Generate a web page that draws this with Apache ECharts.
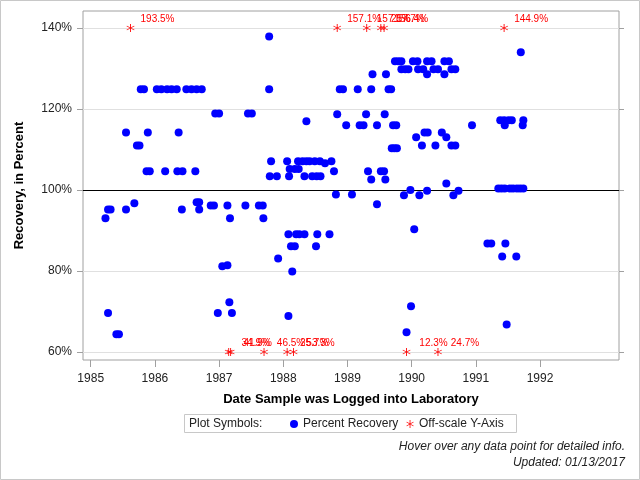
<!DOCTYPE html>
<html>
<head>
<meta charset="utf-8">
<script src="https://cdn.jsdelivr.net/npm/echarts@6/dist/echarts.min.js"></script>
<style>html,body{margin:0;padding:0;background:#fff}#c{width:640px;height:480px}</style>
</head>
<body>
<div id="c"></div>
<script>
// Percent Recovery points: decimal year, percent
const recYear = [
1985.23,1985.27,1985.31,1985.27,1985.40,1985.44,1985.55,1985.55,1985.68,1985.72,
1985.76,1985.78,1985.83,1985.87,1985.89,1985.92,1986.03,1986.10,1986.16,1986.19,
1986.26,1986.34,1986.35,1986.37,1986.42,1986.43,1986.49,1986.57,1986.63,1986.65,
1986.65,1986.69,1986.69,1986.73,1986.87,1986.92,1986.94,1986.98,1987.00,1987.05,
1987.13,1987.13,1987.16,1987.17,1987.20,1987.41,1987.45,1987.51,1987.62,1987.68,
1987.69,1987.78,1987.78,1987.79,1987.81,1987.90,1987.92,1988.06,1988.08,1988.08,
1988.09,1988.10,1988.12,1988.14,1988.18,1988.18,1988.20,1988.23,1988.24,1988.25,
1988.30,1988.33,1988.33,1988.36,1988.36,1988.41,1988.45,1988.49,1988.51,1988.52,
1988.53,1988.57,1988.58,1988.65,1988.72,1988.75,1988.79,1988.82,1988.84,1988.88,
1988.93,1988.98,1989.07,1989.16,1989.19,1989.25,1989.29,1989.32,1989.37,1989.37,
1989.39,1989.46,1989.46,1989.52,1989.57,1989.58,1989.59,1989.60,1989.64,1989.68,
1989.69,1989.71,1989.73,1989.74,1989.76,1989.77,1989.79,1989.84,1989.84,1989.88,
1989.90,1989.92,1989.95,1989.98,1989.99,1990.02,1990.04,1990.07,1990.09,1990.10,
1990.12,1990.16,1990.18,1990.20,1990.24,1990.24,1990.24,1990.25,1990.31,1990.34,
1990.37,1990.41,1990.47,1990.51,1990.51,1990.54,1990.54,1990.58,1990.62,1990.62,
1990.65,1990.68,1990.68,1990.73,1990.94,1991.18,1991.24,1991.35,1991.38,1991.40,
1991.41,1991.44,1991.45,1991.45,1991.46,1991.48,1991.51,1991.53,1991.56,1991.58,
1991.63,1991.64,1991.69,1991.70,1991.73,1991.74,1991.74
];
const recPct = [
93.0,95.2,95.2,69.6,64.4,64.4,114.2,95.2,96.7,111.0,
111.0,124.9,124.9,104.6,114.2,104.6,124.9,124.9,104.6,124.9,
124.9,124.9,104.6,114.2,95.2,104.6,124.9,124.9,104.6,124.9,
97.0,97.0,95.2,124.9,96.2,96.2,118.9,69.6,118.9,81.2,
81.4,96.2,72.3,93.0,69.6,96.2,118.9,118.9,96.2,96.2,
93.0,137.9,124.9,103.4,107.1,103.4,83.1,107.1,89.1,68.9,
103.4,105.2,86.1,79.9,105.2,86.1,89.1,107.1,105.2,89.1,
107.1,103.4,89.1,107.1,117.0,107.1,103.4,107.1,86.1,103.4,
89.1,107.1,103.4,106.6,89.1,107.1,104.6,98.9,118.7,124.9,
124.9,116.0,98.9,124.9,116.0,116.0,118.7,104.6,124.9,102.6,
128.6,116.0,96.5,104.6,104.6,118.7,102.6,128.6,124.9,124.9,
110.3,116.0,110.3,131.8,116.0,110.3,131.8,131.8,129.8,98.7,
129.8,64.9,129.8,100.0,71.3,131.8,90.3,113.0,131.8,129.8,
98.7,111.0,129.8,114.2,131.8,128.6,99.8,114.2,131.8,129.8,
111.0,129.8,114.2,131.8,128.6,113.0,101.6,131.8,111.0,129.8,
98.7,111.0,129.8,99.8,116.0,86.8,86.8,100.4,117.2,100.4,
83.6,117.2,116.0,100.4,86.8,66.8,117.2,100.4,117.2,100.4,
83.6,100.4,100.4,134.0,116.0,117.2,100.4
];
// Off-scale values (actual percent), drawn at the axis limit
const offYear = [1985.62,1988.84,1989.30,1989.52,1989.57,1991.44,
                 1987.15,1987.18,1987.70,1988.06,1988.16,1989.92,1990.41];
const offValue = [193.5,157.1,157.1,257.7,156.4,144.9,
                  34.9,41.9,46.5,25.7,53.3,12.3,24.7];
const scaleTop = 140, scaleBottom = 60;
const yTicks = [60,80,100,120,140];
const xTicks = [1985,1986,1987,1988,1989,1990,1991,1992];

const FONT = '"Liberation Sans", Arial, sans-serif';
const ASTER = 'path://M4.5 0H5.5V10H4.5Z M9.08 2.07L9.58 2.93L0.92 7.93L0.42 7.07Z M0.42 2.93L0.92 2.07L9.58 7.07L9.08 7.93Z';

const recData = recYear.map((y,i)=>[y, recPct[i]]);
const offData = offYear.map((y,i)=>[y, offValue[i] > scaleTop ? scaleTop : scaleBottom, offValue[i]]);

const chart = echarts.init(document.getElementById('c'), null, {renderer:'canvas'});
chart.setOption({
  animation: false,
  backgroundColor: '#fff',
  textStyle: {fontFamily: FONT},
  grid: {left: 83, right: 21, top: 11, bottom: 120, show: true, borderColor: '#a0a0a0', borderWidth: 1, containLabel: false},
  xAxis: {
    type: 'value', min: 1984.88, max: 1993.23,
    name: 'Date Sample was Logged into Laboratory', nameLocation: 'middle', nameGap: 33,
    nameTextStyle: {fontSize: 13, fontWeight: 'bold', color: '#000', fontFamily: FONT},
    axisLine: {show: false},
    axisTick: {show: true, length: 7, lineStyle: {color: '#a0a0a0'}, customValues: xTicks},
    axisLabel: {show: true, fontSize: 12, color: '#222', margin: 13, customValues: xTicks, formatter: v => String(Math.round(v))},
    splitLine: {show: false}
  },
  yAxis: [{
    type: 'value', min: 58.02, max: 144.2,
    name: 'Recovery, in Percent', nameLocation: 'middle', nameGap: 57, nameRotate: 90,
    nameTextStyle: {fontSize: 13, fontWeight: 'bold', color: '#000', fontFamily: FONT},
    axisLine: {show: false},
    axisTick: {show: true, length: 6, lineStyle: {color: '#a0a0a0'}, customValues: yTicks},
    axisLabel: {show: true, fontSize: 12, color: '#222', margin: 11, customValues: yTicks, formatter: v => Math.round(v) + '%'},
    splitLine: {show: false}
  },{
    type: 'value', min: 58.02, max: 144.2, position: 'right',
    axisLine: {show: false},
    axisTick: {show: true, length: 5, lineStyle: {color: '#a0a0a0'}, customValues: yTicks},
    axisLabel: {show: false},
    splitLine: {show: false}
  }],
  legend: {
    left: 285, top: 413, itemWidth: 8, itemHeight: 8, itemGap: 8, selectedMode: false,
    textStyle: {fontSize: 12, color: '#222', fontFamily: FONT},
    data: [{name: 'Percent Recovery', icon: 'circle'}, {name: 'Off-scale Y-Axis', icon: ASTER}]
  },
  series: [
    {
      type: 'line', data: [], silent: true, z: 1,
      markLine: {
        z: 1, silent: true, symbol: ['none','none'], label: {show: false}, animation: false,
        lineStyle: {color: '#e0e0e0', width: 1, type: 'solid'},
        data: yTicks.map(v => v === 100 ? {yAxis: v, lineStyle: {color: '#000', width: 1, type: 'solid'}} : {yAxis: v})
      }
    },
    {
      name: 'Percent Recovery', type: 'scatter', data: recData, z: 3,
      symbol: 'circle', symbolSize: 8, itemStyle: {color: '#0000ff', opacity: 1}
    },
    {
      name: 'Off-scale Y-Axis', type: 'scatter', data: offData, z: 4,
      symbol: ASTER, symbolSize: 8, itemStyle: {color: '#ff0000', opacity: 1},
      label: {show: true, position: 'top', distance: 0, offset: [27, 0], color: '#ff0000', fontSize: 10, fontFamily: FONT,
        formatter: p => p.data[2].toFixed(1) + '%'}
    }
  ],
  graphic: [
    {type: 'rect', shape: {x: 0.5, y: 0.5, width: 639, height: 479}, style: {fill: 'none', stroke: '#c8c8c8', lineWidth: 1}, silent: true},
    {type: 'rect', shape: {x: 184.5, y: 414.5, width: 332, height: 18}, style: {fill: 'none', stroke: '#c8c8c8', lineWidth: 1}, silent: true},
    {type: 'text', x: 189, y: 423.5, style: {text: 'Plot Symbols:', font: '12px ' + FONT, fill: '#222', textVerticalAlign: 'middle', textAlign: 'left'}},
    {type: 'text', x: 625, y: 447, style: {text: 'Hover over any data point for detailed info.', font: 'italic 12px ' + FONT, fill: '#222', textAlign: 'right', textVerticalAlign: 'middle'}},
    {type: 'text', x: 625, y: 463, style: {text: 'Updated: 01/13/2017', font: 'italic 12px ' + FONT, fill: '#222', textAlign: 'right', textVerticalAlign: 'middle'}}
  ]
});
</script>
</body>
</html>
